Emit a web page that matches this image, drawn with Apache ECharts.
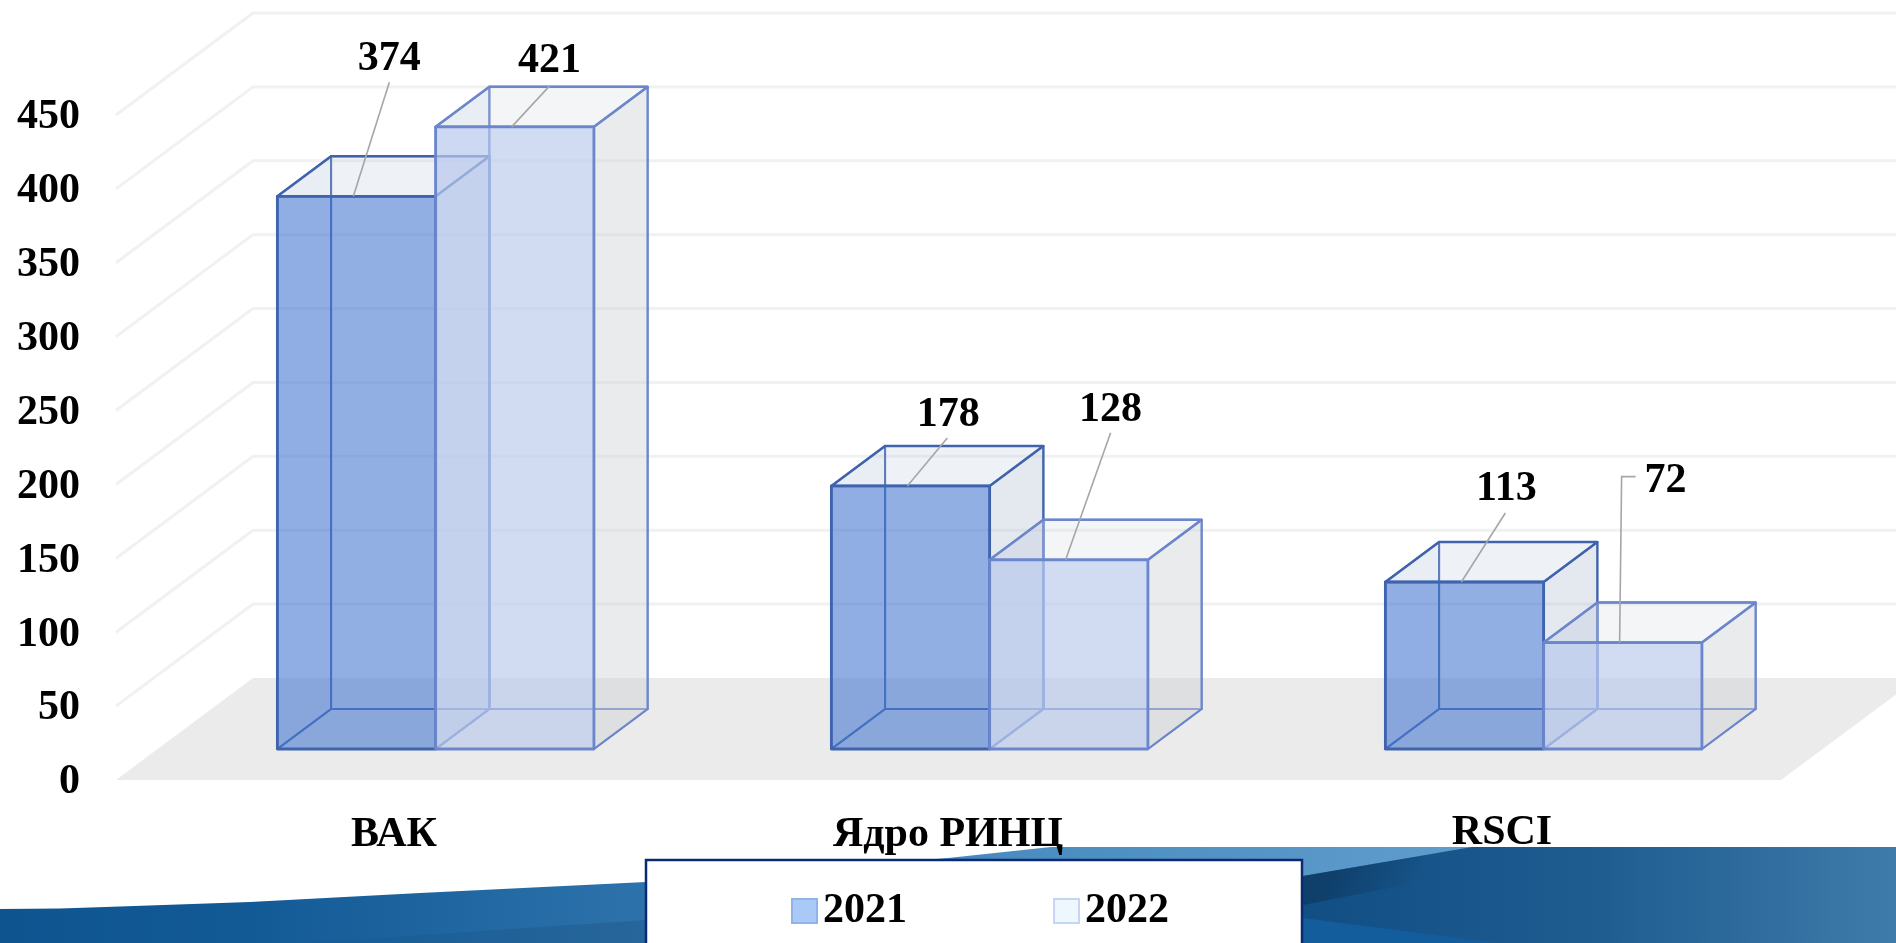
<!DOCTYPE html>
<html><head><meta charset="utf-8">
<style>html,body{margin:0;padding:0;background:#fff;overflow:hidden}#c{width:1896px;height:943px}</style>
<script src="https://cdn.jsdelivr.net/npm/echarts@6/dist/echarts.min.js"></script></head>
<body><div id="c"></div>
<script>
const categories = ['ВАК', 'Ядро РИНЦ', 'RSCI'];
const years = ['2021', '2022'];
const values2021 = [374, 178, 113];
const values2022 = [421, 128, 72];
const yMin = 0, yMax = 450, yStep = 50;
const gridLevels = [50, 100, 150, 200, 250, 300, 350, 400, 450];

// label placement relative to the top of each bar: text centre, leader end, optional elbow
const labelOffsets2021 = [[36, -137], [41, -71], [45, -93]];
const leaderEnds2021 = [[36, -114], [40, -48], [44, -69]];
const labelOffsets2022 = [[38, -66], [45, -150], [46, -161]];
const leaderEnds2022 = [[38, -41], [45, -127], [16, -166]];
const leaderElbows2022 = [null, null, [2, -166]];

const FONT = '"Liberation Serif","Times New Roman",serif';
const DEPTH = [137, -102];
const BAR_W = 0.2857, D_FRONT = 0.304, D_BACK = 0.696, LEADER_AT = 0.48;
const chart = echarts.init(document.getElementById('c'));

const styles = [
  {line: '#3F63AD', front: 'rgba(73,122,210,.6)', right: 'rgba(180,190,210,.36)', top: 'rgba(190,200,220,.26)', left:'rgba(73,122,210,.03)'},
  {line: '#6C86CC', front: 'rgba(184,201,236,.65)', right: 'rgba(206,208,212,.42)', top: 'rgba(200,205,215,.2)', left:'rgba(184,201,236,.18)'}
];

function cube(seriesIdx, offsets, ends, elbows) {
  return function (params, api) {
    const i = api.value(0), v = api.value(1);
    const top = api.coord([i, v]), base = api.coord([i, 0]);
    const band = api.size([1, 0])[0], w = band * BAR_W;
    const s = styles[seriesIdx];
    const cx = top[0] + DEPTH[0] * D_FRONT + (seriesIdx - 1) * w;
    const fy = DEPTH[1] * D_FRONT, by = DEPTH[1] * D_BACK;
    const bdx = DEPTH[0] * (D_BACK - D_FRONT);
    const L = cx, R = cx + w, T = top[1] + fy, B = base[1] + fy;
    const Tb = top[1] + by, Bb = base[1] + by, Lb = L + bdx, Rb = R + bdx;
    const face = (pts, fill, lw) => ({type: 'polygon', shape: {points: pts},
      style: {fill: fill, stroke: s.line, lineWidth: lw, lineJoin: 'round'}});
    const ax = L + w * LEADER_AT;
    const lead = [[ax, T]];
    if (elbows && elbows[i]) lead.push([ax + elbows[i][0], T + elbows[i][1]]);
    lead.push([ax + ends[i][0], T + ends[i][1]]);
    return {type: 'group', children: [
      face([[Lb, Bb], [Rb, Bb], [Rb, Tb], [Lb, Tb]], 'rgba(0,0,0,0)', 2),
      face([[L, B], [R, B], [Rb, Bb], [Lb, Bb]], 'rgba(0,0,0,0)', 2),
      face([[L, B], [L, T], [Lb, Tb], [Lb, Bb]], s.left, 2),
      face([[R, B], [R, T], [Rb, Tb], [Rb, Bb]], s.right, 2),
      face([[L, T], [R, T], [Rb, Tb], [Lb, Tb]], s.top, 2.5),
      face([[L, B], [R, B], [R, T], [L, T]], s.front, 2.8),
      {type: 'polyline', shape: {points: lead}, style: {fill: null, stroke: '#A6A6A6', lineWidth: 1.6}},
      {type: 'text', style: {text: String(v), x: ax + offsets[i][0], y: T + offsets[i][1], align: 'center', verticalAlign: 'middle',
        font: 'bold 42px ' + FONT, fill: '#000'}}
    ]};
  };
}

const richBase = {color: '#000', fontFamily: FONT, fontWeight: 'bold', fontSize: 42};

const option = {
  animation: false,
  backgroundColor: '#fff',
  graphic: [
    {type: 'polygon', z: -3, shape: {points: [[0,909],[60,908.5],[120,906.5],[250,902],[420,893],[646,882],[800,871],[948,858],[1051,847],[1896,847],[1896,943],[0,943]]},
      style: {fill: {type:'linear',x:0,y:0,x2:1,y2:0,colorStops:[{offset:0,color:'#0E5590'},{offset:.13,color:'#125A96'},{offset:.34,color:'#2D72AB'},{offset:.53,color:'#4A8CBF'},{offset:.78,color:'#5F9DCC'},{offset:1,color:'#5F9DCC'}]}}},
    {type: 'polygon', z: -2, shape: {points: [[300,943],[646,920],[1303,900],[1303,943]]},
      style: {fill: {type:'linear',x:0,y:0,x2:1,y2:0,colorStops:[{offset:0,color:'#165C96'},{offset:.35,color:'#27669A'},{offset:1,color:'#27669A'}]}}},
    {type: 'polygon', z: -2, shape: {points: [[1303,876],[1472,847],[1896,847],[1896,943],[1303,943]]},
      style: {fill: {type:'linear',x:0,y:0,x2:1,y2:0,colorStops:[{offset:0,color:'#114E84'},{offset:.5,color:'#1F5C90'},{offset:1,color:'#3F7BAA'}]}}},
    {type: 'polygon', z: -1, shape: {points: [[1303,876],[1472,847],[1600,847],[1303,905]]},
      style: {fill: {type:'linear',x:0,y:0,x2:.35,y2:.9,colorStops:[{offset:.3,color:'rgba(13,50,85,.55)'},{offset:1,color:'rgba(13,50,85,0)'}]}}},
    {type: 'polygon', z: -1, shape: {points: [[1303,918],[1497,943],[1303,943]]}, style: {fill: '#135D9C'}}
  ],
  grid: {left: 117, right: 117, top: 115, bottom: 163},
  xAxis: {type: 'category', data: categories,
    axisLine: {show: false}, axisTick: {show: false},
    axisLabel: {margin: 34, color: '#000', fontFamily: FONT, fontWeight: 'bold', fontSize: 42,
      formatter: (val, idx) => idx === 2 ? '{up|' + val + '}' : val,
      rich: {up: Object.assign({lineHeight: 38}, richBase)}}},
  yAxis: {type: 'value', min: yMin, max: yMax, interval: yStep,
    axisLine: {show: false}, axisTick: {show: false}, splitLine: {show: false},
    axisLabel: {margin: 37, color: '#000', fontFamily: FONT, fontWeight: 'bold', fontSize: 42,
      formatter: '{a|{value}}', rich: {a: Object.assign({padding: [5, 0, 0, 0]}, richBase)}}},
  legend: {
    data: [
      {name: years[0], itemStyle: {color: '#A9C9F7', borderColor: '#8FB4EC', borderWidth: 2}},
      {name: years[1], itemStyle: {color: '#EEF7FD', borderColor: '#C5D5F5', borderWidth: 2}}
    ],
    left: 646, top: 860, orient: 'horizontal', icon: 'rect', itemWidth: 25, itemHeight: 24, itemGap: 146,
    padding: [30, 133, 30, 145],
    backgroundColor: '#fff', borderColor: '#0B2A72', borderWidth: 2.5, z: 6,
    textStyle: {color: '#000', fontFamily: FONT, fontWeight: 'bold', fontSize: 42, padding: [0, 0, 0, 1]}
  },
  series: [
    {type: 'custom', name: 'floor', silent: true, z: 1, data: [[0]], renderItem: (p, api) => {
      const c = p.coordSys, yb = c.y + c.height, xl = c.x - 1, xr = c.x + c.width + 2;
      return {type: 'polygon', shape: {points: [[xl, yb], [xr, yb],
        [xr + DEPTH[0], yb + DEPTH[1]], [xl + DEPTH[0], yb + DEPTH[1]]]}, style: {fill: '#EBEBEB'}};
    }},
    {type: 'custom', name: 'walls', silent: true, z: 1, data: gridLevels.map(v => [v]), renderItem: (p, api) => {
      const c = p.coordSys, y = api.coord([0, api.value(0)])[1];
      return {type: 'polyline', shape: {points: [[c.x - 1, y], [c.x - 1 + DEPTH[0], y + DEPTH[1]], [api.getWidth(), y + DEPTH[1]]]},
        style: {fill: null, stroke: '#F1F1F1', lineWidth: 3}};
    }},
    {type: 'custom', name: years[0], z: 3, encode: {x: 0, y: 1}, itemStyle: {color: '#A9C9F7'},
      data: values2021.map((v, i) => [i, v]), renderItem: cube(0, labelOffsets2021, leaderEnds2021)},
    {type: 'custom', name: years[1], z: 4, encode: {x: 0, y: 1}, itemStyle: {color: '#EEF7FD'},
      data: values2022.map((v, i) => [i, v]), renderItem: cube(1, labelOffsets2022, leaderEnds2022, leaderElbows2022)}
  ]
};
chart.setOption(option);
</script></body></html>
